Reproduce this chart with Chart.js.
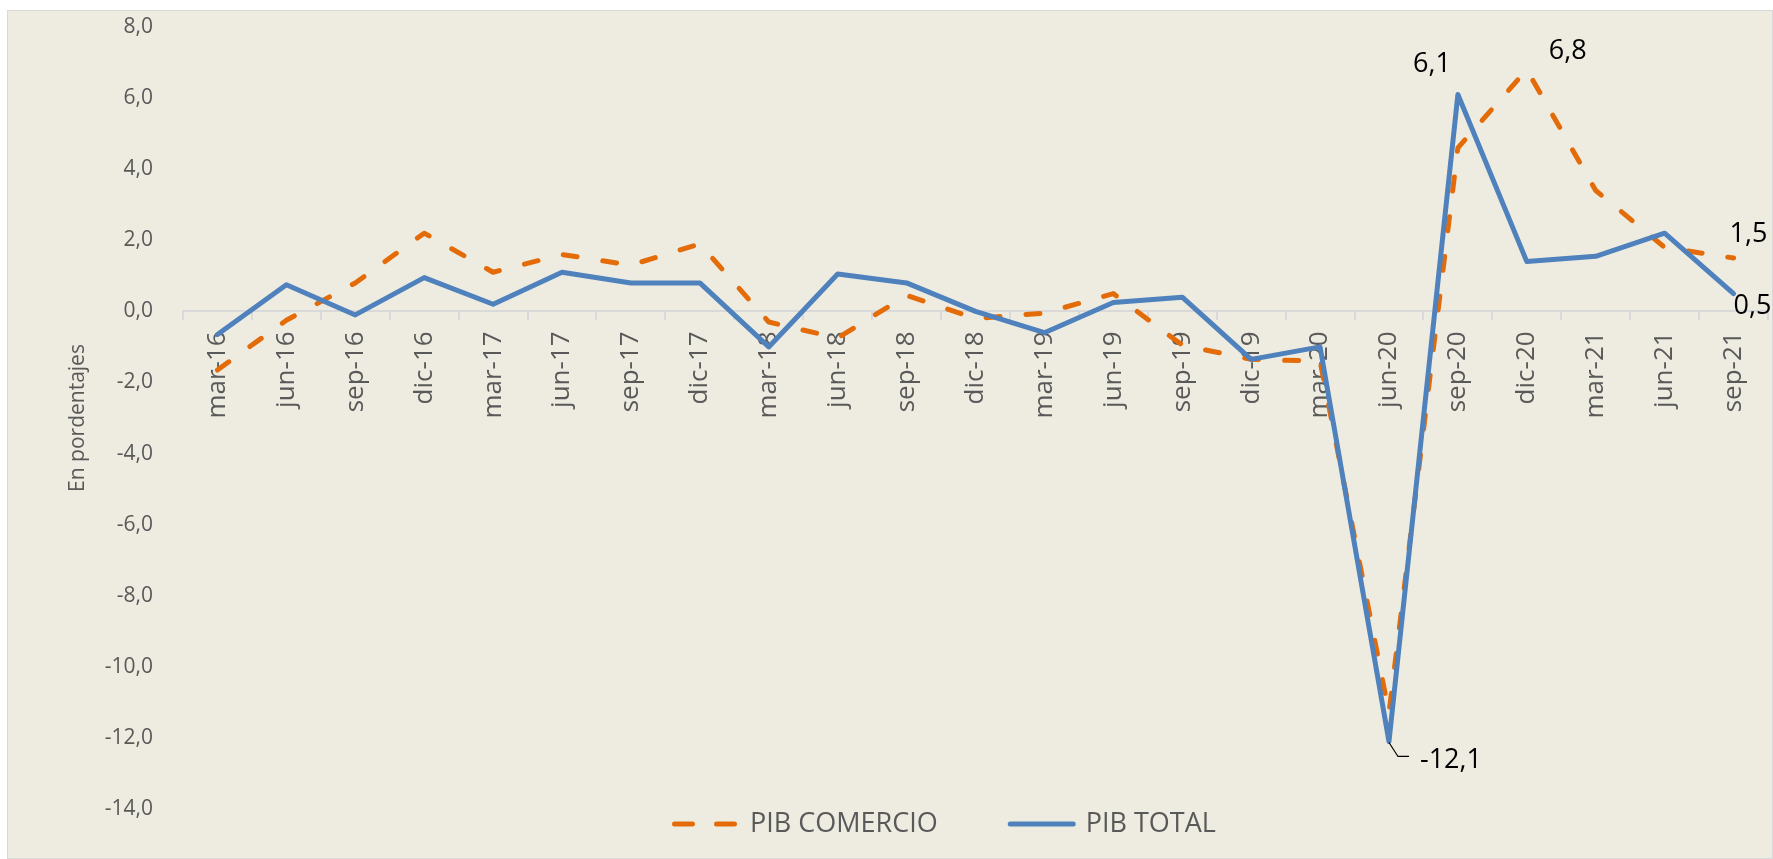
<!DOCTYPE html>
<html>
<head>
<meta charset="utf-8">
<script src="https://cdn.jsdelivr.net/npm/chart.js@4.4.1/dist/chart.umd.min.js"></script>
<style>
  html, body { margin: 0; padding: 0; background: #fff; }
  #wrap {
    position: absolute; left: 7px; top: 10px; width: 1766px; height: 849px;
    box-sizing: border-box; border: 1px solid #d9d9d9; background: #eeece1;
  }
  #wrap canvas { display: block; }
</style>
</head>
<body>
<div id="wrap"><canvas id="pib-chart"></canvas></div>
<script>
// quarterly variation, en porcentajes
const quarters = [
  'mar-16', 'jun-16', 'sep-16', 'dic-16',
  'mar-17', 'jun-17', 'sep-17', 'dic-17',
  'mar-18', 'jun-18', 'sep-18', 'dic-18',
  'mar-19', 'jun-19', 'sep-19', 'dic-19',
  'mar-20', 'jun-20', 'sep-20', 'dic-20',
  'mar-21', 'jun-21', 'sep-21'
];
const pibComercio = [
  -1.65, -0.25, 0.8, 2.2,
  1.1, 1.6, 1.3, 1.9,
  -0.3, -0.75, 0.45, -0.2,
  -0.05, 0.5, -0.95, -1.35,
  -1.4, -11.3, 4.6, 6.8,
  3.4, 1.8, 1.5
];
const pibTotal = [
  -0.65, 0.75, -0.1, 0.95,
  0.2, 1.1, 0.8, 0.8,
  -1.0, 1.05, 0.8, 0.0,
  -0.6, 0.25, 0.4, -1.35,
  -1.0, -12.1, 6.1, 1.4,
  1.55, 2.2, 0.5
];
const yTicks = [8, 6, 4, 2, 0, -2, -4, -6, -8, -10, -12, -14];

// which points carry a value label
const comercioLabelIdx = [19, 22];
const totalLabelIdx = [17, 18, 22];

const fmt = v => Number(v).toFixed(1).replace('.', ',');
const grey = '#595959';

Chart.defaults.font.family = '"Open Sans", sans-serif';

// label offsets (px from the point), keyed by dataset label then index
const labelOffsets = {
  'PIB COMERCIO': { 19: [41, -18], 22: [15, -24] },
  'PIB TOTAL': { 17: [62, 19], 18: [-26, -30], 22: [19, 13] }
};

const pointLabels = {
  id: 'pointLabels',
  afterDatasetsDraw(chart) {
    const ctx = chart.ctx;
    ctx.save();
    ctx.font = '27px "Open Sans"';
    ctx.fillStyle = '#000';
    ctx.textAlign = 'center';
    ctx.textBaseline = 'middle';
    chart.data.datasets.forEach((ds, di) => {
      const meta = chart.getDatasetMeta(di);
      ds.labelIdx.forEach(i => {
        const pt = meta.data[i];
        const [dx, dy] = labelOffsets[ds.label][i];
        ctx.fillText(fmt(ds.data[i]), pt.x + dx, pt.y + dy);
        if (dy > 15 && dx > 40) {
          // leader line for the low point
          ctx.beginPath();
          ctx.strokeStyle = '#000';
          ctx.lineWidth = 1.2;
          ctx.moveTo(pt.x, pt.y + 1);
          ctx.lineTo(pt.x + 9, pt.y + 15);
          ctx.lineTo(pt.x + 20, pt.y + 15);
          ctx.stroke();
        }
      });
    });
    ctx.restore();
  }
};

const lineLegend = {
  id: 'lineLegend',
  afterDraw(chart) {
    const ctx = chart.ctx;
    const y = 813;
    let x = 664;
    ctx.save();
    ctx.font = '27px "Open Sans"';
    ctx.textBaseline = 'middle';
    ctx.textAlign = 'left';
    chart.data.datasets.forEach(ds => {
      ctx.beginPath();
      ctx.strokeStyle = ds.borderColor;
      ctx.lineWidth = ds.borderWidth;
      ctx.lineCap = 'round';
      ctx.setLineDash(ds.borderDash ? [18, 24] : []);
      ctx.moveTo(x + 2.5, y);
      ctx.lineTo(x + 65.5, y);
      ctx.stroke();
      ctx.setLineDash([]);
      ctx.fillStyle = grey;
      ctx.fillText(ds.label, x + 78, y);
      x += 78 + ctx.measureText(ds.label).width + 70;
    });
    ctx.restore();
  }
};

new Chart(document.getElementById('pib-chart'), {
  type: 'line',
  data: {
    labels: quarters,
    datasets: [{
      label: 'PIB COMERCIO',
      data: pibComercio,
      labelIdx: comercioLabelIdx,
      borderColor: '#e36c09',
      borderWidth: 5,
      borderDash: [14, 26],
      borderCapStyle: 'round',
      borderJoinStyle: 'round',
      pointRadius: 0,
      tension: 0,
      order: 1
    }, {
      label: 'PIB TOTAL',
      data: pibTotal,
      labelIdx: totalLabelIdx,
      borderColor: '#4f81bd',
      borderWidth: 5,
      borderCapStyle: 'round',
      borderJoinStyle: 'round',
      pointRadius: 0,
      tension: 0,
      order: 0
    }]
  },
  options: {
    responsive: true,
    maintainAspectRatio: false,
    animation: false,
    layout: { padding: { left: 0, right: 4, top: 16, bottom: 49 } },
    plugins: {
      legend: { display: false },
      tooltip: { enabled: false }
    },
    scales: {
      x: {
        position: { y: 0 },
        offset: true,
        afterFit: s => { s.paddingLeft = 0; s.paddingRight = 0; },
        grid: {
          offset: true,
          drawOnChartArea: false,
          drawTicks: true,
          tickLength: 8,
          color: '#d9d9d9',
          lineWidth: 2
        },
        border: { display: true, color: '#d9d9d9', width: 2 },
        ticks: {
          autoSkip: false,
          maxRotation: 90,
          minRotation: 90,
          padding: 12,
          color: grey,
          font: { size: 26 }
        }
      },
      y: {
        min: -14,
        max: 8,
        afterBuildTicks: s => { s.ticks = yTicks.map(v => ({ value: v })); },
        afterFit: s => { s.width = 175; s.paddingTop = 0; s.paddingBottom = 0; },
        grid: { display: false, drawTicks: false },
        border: { display: false },
        ticks: {
          padding: 30,
          color: grey,
          font: { size: 21 },
          callback: v => fmt(v)
        },
        title: {
          display: true,
          text: 'En pordentajes',
          color: grey,
          font: { size: 21 },
          padding: { top: 57, bottom: 0 }
        }
      }
    }
  },
  plugins: [pointLabels, lineLegend]
});
</script>
</body>
</html>
